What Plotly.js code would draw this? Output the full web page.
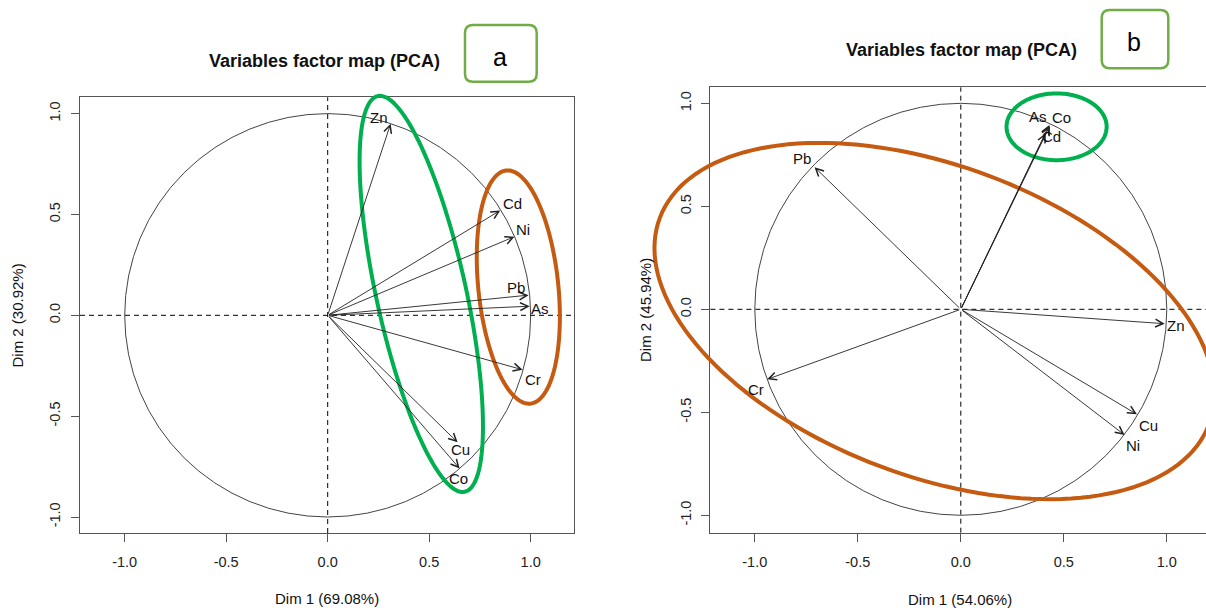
<!DOCTYPE html>
<html><head><meta charset="utf-8">
<script src="https://cdn.plot.ly/plotly-3.0.1.min.js"></script>
<style>html,body{margin:0;padding:0;background:#fff;overflow:hidden}#chart{width:1206px;height:608px}</style>
</head><body><div id="chart"></div>
<script>
// ---------- data: panel a ----------
const varsA = ['Zn','Cd','Ni','Pb','As','Cr','Cu','Co'];
const dim1A = [0.31, 0.85, 0.92, 0.99, 0.995, 0.96, 0.64, 0.65];
const dim2A = [0.95, 0.52, 0.39, 0.10, 0.045, -0.27, -0.63, -0.76];
// ---------- data: panel b ----------
const varsB = ['Pb','Cr','Zn','Cu','Ni','As','Co','Cd'];
const dim1B = [-0.71, -0.94, 0.99, 0.855, 0.795, 0.43, 0.432, 0.412];
const dim2B = [0.69, -0.34, -0.07, -0.51, -0.61, 0.895, 0.89, 0.855];
// ---------- ticks & texts ----------
const tickVals = [-1.0, -0.5, 0.0, 0.5, 1.0];
const tickText = ['-1.0', '-0.5', '0.0', '0.5', '1.0'];
const plotTitle = 'Variables factor map (PCA)';
const axisTitlesA = ['Dim 1 (69.08%)', 'Dim 2 (30.92%)'];
const axisTitlesB = ['Dim 1 (54.06%)', 'Dim 2 (45.94%)'];
const panelTags = ['a', 'b'];

// ---------- styling / layout ----------
const W = 1206, H = 608;
const FONT = 'Liberation Sans, Arial, sans-serif';
const GREEN = '#00B050', ORANGE = '#C55A11', TAGGREEN = '#70AD47';
// label offsets in px (dx right, dy up)
const offA = {Zn:[-12,6], Cd:[12,7], Ni:[9,7], Pb:[-13,8], As:[10,-2], Cr:[10,-10], Cu:[3,-7], Co:[-1,-10]};
const offB = {Pb:[-13,9], Cr:[-11,-10], Zn:[11,-2], Cu:[12,-11], Ni:[8,-11], As:[-11,8], Co:[12,8], Cd:[6,-3]};
// panel geometry
const PA = {xd:[80/W, 574/W], yd:[(H-533)/H, (H-97.3)/H], xr:[-1.2202, 1.2133], yr:[-1.0793, 1.0808]};
const PB = {xd:[710.4/W, 1], yd:[(H-532.7)/H, (H-87.3)/H], xr:[-1.2155, 1.1903], yr:[-1.0845, 1.0777]};
// highlight ellipses (in data units, angle deg)
const ellA = [{cx:0.461, cy:0.106, a:1.004, b:0.221, th:102.3, c:GREEN},
              {cx:0.939, cy:0.140, a:0.581, b:0.197, th:95.85, c:ORANGE}];
const ellB = [{cx:0.465, cy:0.886, a:0.243, b:0.162, th:0, c:GREEN},
              {cx:-0.128, cy:-0.057, a:1.424, b:0.753, th:-20.6, c:ORANGE}];

function toPaper(P, x, y){
  return [P.xd[0] + (x-P.xr[0])/(P.xr[1]-P.xr[0])*(P.xd[1]-P.xd[0]),
          P.yd[0] + (y-P.yr[0])/(P.yr[1]-P.yr[0])*(P.yd[1]-P.yd[0])];
}
function ellipsePath(P, e){
  const n = 160, t = e.th*Math.PI/180; let s = '';
  for(let i=0;i<=n;i++){
    const u = 2*Math.PI*i/n;
    const x = e.cx + e.a*Math.cos(u)*Math.cos(t) - e.b*Math.sin(u)*Math.sin(t);
    const y = e.cy + e.a*Math.cos(u)*Math.sin(t) + e.b*Math.sin(u)*Math.cos(t);
    const p = toPaper(P, x, y);
    s += (i===0?'M':'L') + p[0].toFixed(5) + ',' + p[1].toFixed(5);
  }
  return s + 'Z';
}
function roundRect(x0,y0,x1,y1,r){ // px coords (y down) -> paper path
  const X = v=>(v/W).toFixed(5), Y = v=>(1-v/H).toFixed(5);
  return 'M'+X(x0+r)+','+Y(y0)+' L'+X(x1-r)+','+Y(y0)+' Q'+X(x1)+','+Y(y0)+' '+X(x1)+','+Y(y0+r)+
    ' L'+X(x1)+','+Y(y1-r)+' Q'+X(x1)+','+Y(y1)+' '+X(x1-r)+','+Y(y1)+
    ' L'+X(x0+r)+','+Y(y1)+' Q'+X(x0)+','+Y(y1)+' '+X(x0)+','+Y(y1-r)+
    ' L'+X(x0)+','+Y(y0+r)+' Q'+X(x0)+','+Y(y0)+' '+X(x0+r)+','+Y(y0)+' Z';
}

function axisX(P, anchor, mirror){
  return {domain:P.xd, range:P.xr, anchor:anchor, showgrid:false, zeroline:false,
    showline:true, mirror:mirror, linecolor:'#555', linewidth:1,
    ticks:'outside', ticklen:8, tickcolor:'#555', tickwidth:1,
    tickmode:'array', tickvals:tickVals, ticktext:tickText,
    tickfont:{family:FONT, size:14.5, color:'#222'}, ticklabelstandoff:8, fixedrange:true};
}
function axisY(P, anchor, mirror){
  return {domain:P.yd, range:P.yr, anchor:anchor, showgrid:false, zeroline:false,
    showline:true, mirror:mirror, linecolor:'#555', linewidth:1,
    ticks:'outside', ticklen:8, tickcolor:'#555', tickwidth:1,
    tickmode:'array', tickvals:tickVals, ticktext:tickText, tickangle:-90,
    tickfont:{family:FONT, size:14.5, color:'#222'}, ticklabelstandoff:5, fixedrange:true};
}

const shapes = [], annotations = [];
function panel(P, xr, yr, vars, d1, d2, off, ells){
  shapes.push({type:'circle', xref:xr, yref:yr, x0:-1, x1:1, y0:-1, y1:1, line:{color:'#444', width:1}});
  shapes.push({type:'line', xref:xr+' domain', yref:yr, x0:0, x1:1, y0:0, y1:0, line:{color:'#000', width:1, dash:'5px,4px'}});
  shapes.push({type:'line', xref:xr, yref:yr+' domain', x0:0, x1:0, y0:0, y1:1, line:{color:'#000', width:1, dash:'5px,4px'}});
  vars.forEach((v,i)=>{
    annotations.push({xref:xr, yref:yr, axref:xr, ayref:yr, x:d1[i], y:d2[i], ax:0, ay:0,
      text:'', showarrow:true, arrowhead:5, arrowsize:1.7, arrowwidth:0.9, arrowcolor:'#222', standoff:0, startstandoff:0});
    annotations.push({xref:xr, yref:yr, x:d1[i], y:d2[i], text:v, showarrow:false,
      xshift:off[v][0], yshift:off[v][1], font:{family:FONT, size:15, color:'#111'}});
  });
  ells.forEach(e=>shapes.push({type:'path', xref:'paper', yref:'paper', path:ellipsePath(P,e),
      line:{color:e.c, width:4}, layer:'above'}));
}
panel(PA, 'x', 'y', varsA, dim1A, dim2A, offA, ellA);
panel(PB, 'x2', 'y2', varsB, dim1B, dim2B, offB, ellB);

function txt(text, px, py, size, opts){
  return Object.assign({xref:'paper', yref:'paper', x:px/W, y:1-py/H, xanchor:'center', yanchor:'middle',
    text:text, showarrow:false, font:{family:FONT, size:size, color:'#111'}}, opts||{});
}
annotations.push(txt('<b>'+plotTitle+'</b>', 324.5, 61, 18));
annotations.push(txt('<b>'+plotTitle+'</b>', 961, 50, 18));
annotations.push(txt(axisTitlesA[0], 327, 598, 15));
annotations.push(txt(axisTitlesA[1], 17, 315.5, 15, {textangle:-90}));
annotations.push(txt(axisTitlesB[0], 960, 599, 15));
annotations.push(txt(axisTitlesB[1], 646, 310, 15, {textangle:-90}));
shapes.push({type:'path', xref:'paper', yref:'paper', path:roundRect(465,25,536.7,81.7,8), line:{color:TAGGREEN, width:2.5}});
shapes.push({type:'path', xref:'paper', yref:'paper', path:roundRect(1101.7,10,1168.3,68.3,8), line:{color:TAGGREEN, width:2.5}});
annotations.push(txt(panelTags[0], 500, 57, 25, {font:{family:FONT, size:25, color:'#000'}}));
annotations.push(txt(panelTags[1], 1134, 42, 25, {font:{family:FONT, size:25, color:'#000'}}));

const layout = {width:W, height:H, margin:{l:0,r:0,t:0,b:0}, paper_bgcolor:'#fff', plot_bgcolor:'#fff',
  showlegend:false, xaxis:axisX(PA,'y',true), yaxis:axisY(PA,'x',true),
  xaxis2:axisX(PB,'y2',true), yaxis2:axisY(PB,'x2',false), shapes:shapes, annotations:annotations};
Plotly.newPlot('chart', [], layout, {staticPlot:true, displayModeBar:false});
</script></body></html>
